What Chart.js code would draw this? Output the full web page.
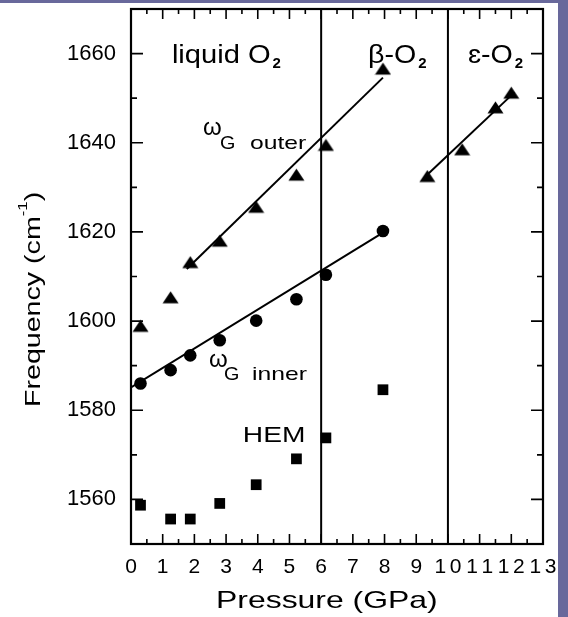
<!DOCTYPE html>
<html lang="en">
<head>
<meta charset="UTF-8">
<title>G band frequency of O2 vs pressure</title>
<script src="https://cdn.jsdelivr.net/npm/chart.js"></script>
<style>
  html, body { margin: 0; padding: 0; background: #fff; }
  #wrap { position: relative; width: 568px; height: 617px; overflow: hidden; }
  #wrap canvas { position: absolute; left: 0; top: 0; }
  .band { position: absolute; background: #68689b; }
  #topBand { left: 0; top: 0; width: 568px; height: 3px; }
  #rightBand { left: 558px; top: 0; width: 10px; height: 617px; }
</style>
</head>
<body>
<div id="wrap">
  <canvas id="chart" width="568" height="617"></canvas>
  <div class="band" id="topBand"></div>
  <div class="band" id="rightBand"></div>
</div>
<script>
// liquid O2 and beta-O2 runs (GPa)
const pressures = [0.3, 1.25, 1.87, 2.8, 3.95, 5.22, 6.15, 7.95];
const outerFreq = [1598.6, 1605.0, 1612.9, 1617.7, 1625.3, 1632.5, 1639.2, 1656.3];
const innerFreq = [1586.0, 1589.0, 1592.3, 1595.7, 1600.1, 1604.9, 1610.4, 1620.2];
const hemFreq   = [1558.7, 1555.6, 1555.6, 1559.1, 1563.3, 1569.1, 1573.8, 1584.6];
// epsilon-O2
const epsPressures = [9.35, 10.45, 11.5, 12.0];
const epsOuterFreq = [1632.2, 1638.2, 1647.6, 1650.9];
// fitted lines, end points
const outerFitP = [1.76, 7.95];
const outerFitF = [1611.7, 1654.6];
const innerFitP = [0, 7.9];
const innerFitF = [1585.1, 1619.6];
const epsFitP = [9.33, 12.1];
const epsFitF = [1632.7, 1651.3];
// phase boundaries (GPa)
const phaseBounds = [6, 10];

const xTicks = [0, 1, 2, 3, 4, 5, 6, 7, 8, 9, 10, 11, 12, 13];
const yTicks = [1560, 1580, 1600, 1620, 1640, 1660];
const xMin = 0, xMax = 13, yMin = 1550, yMax = 1670;

const FONT = '"Liberation Sans", Arial, sans-serif';

function pts(xs, ys) {
  return xs.map((x, i) => ({ x: x, y: ys[i] }));
}

// flattened triangle marker like the original figure
const triMarker = document.createElement('canvas');
triMarker.width = 17; triMarker.height = 16;
(function () {
  const c = triMarker.getContext('2d');
  c.fillStyle = '#000';
  c.beginPath();
  c.moveTo(8.5, 0.5);
  c.lineTo(16.5, 12.5);
  c.lineTo(0.5, 12.5);
  c.closePath();
  c.fill();
})();

// text placed in data coordinates; runs are drawn left to right
const notes = [
  { x: 1.29, y: 1658.0, runs: [{ t: 'liquid O', size: 26, sx: 1.12 }, { t: '2', size: 15, bold: true, dy: 5, gap: 2 }] },
  { x: 7.48, y: 1658.0, runs: [{ t: '\u03b2-O', size: 26, sx: 1.1 }, { t: '2', size: 15, bold: true, dy: 5, gap: 2 }] },
  { x: 10.63, y: 1658.0, runs: [{ t: '\u025b-O', size: 26, sx: 1.1 }, { t: '2', size: 15, bold: true, dy: 5, gap: 2 }] },
  { x: 2.27, y: 1641.8, runs: [{ t: '\u03c9', size: 24 }, { t: 'G', size: 18, dx: 17, dy: 14, sx: 1.1 }, { t: 'outer', size: 19, dx: 47, dy: 14, sx: 1.3 }] },
  { x: 2.46, y: 1589.6, runs: [{ t: '\u03c9', size: 24 }, { t: 'G', size: 18, dx: 15, dy: 13, sx: 1.1 }, { t: 'inner', size: 19, dx: 43, dy: 13, sx: 1.3 }] },
  { x: 3.53, y: 1572.9, runs: [{ t: 'HEM', size: 22, sx: 1.28 }] }
];

function drawRuns(ctx, x0, y0, runs, angle) {
  ctx.save();
  ctx.translate(x0, y0);
  if (angle) ctx.rotate(angle);
  ctx.fillStyle = '#000';
  ctx.textBaseline = 'alphabetic';
  ctx.textAlign = 'left';
  let cur = 0;
  runs.forEach(r => {
    const sx = r.sx || 1;
    const start = r.dx !== undefined ? r.dx : cur + (r.gap || 0);
    ctx.save();
    ctx.font = (r.bold ? 'bold ' : '') + r.size + 'px ' + FONT;
    ctx.translate(start, r.dy || 0);
    ctx.scale(sx, 1);
    ctx.fillText(r.t, 0, 0);
    const w = ctx.measureText(r.t).width * sx;
    ctx.restore();
    cur = start + w;
  });
  ctx.restore();
}

// x labels are spaced out digit by digit, as in the original ("10111213")
function drawXLabels(ctx, xs, baseY) {
  const sp = 3.6;
  ctx.save();
  ctx.font = '21px ' + FONT;
  ctx.fillStyle = '#000';
  ctx.textAlign = 'left';
  ctx.textBaseline = 'alphabetic';
  xTicks.forEach(v => {
    const chars = String(v).split('');
    const ws = chars.map(c => ctx.measureText(c).width);
    const total = ws.reduce((a, b) => a + b, 0) + sp * (chars.length - 1);
    let cx = xs.getPixelForValue(v) - total / 2;
    chars.forEach((c, i) => { ctx.fillText(c, cx, baseY); cx += ws[i] + sp; });
  });
  ctx.restore();
}

const framePlugin = {
  id: 'frame',
  afterDraw(chart) {
    const ctx = chart.ctx;
    const xs = chart.scales.x, ys = chart.scales.y;
    const { left, right, top, bottom } = chart.chartArea;
    ctx.save();
    ctx.strokeStyle = '#000';
    ctx.lineWidth = 1.6;
    ctx.beginPath();
    // x ticks, inward, bottom and top
    xTicks.forEach((v, i) => {
      const p = xs.getPixelForValue(v);
      ctx.moveTo(p, bottom); ctx.lineTo(p, bottom - 10);
      ctx.moveTo(p, top); ctx.lineTo(p, top + 10);
      if (i < xTicks.length - 1) {
        const m = xs.getPixelForValue((v + xTicks[i + 1]) / 2);
        ctx.moveTo(m, bottom); ctx.lineTo(m, bottom - 5);
        ctx.moveTo(m, top); ctx.lineTo(m, top + 5);
      }
    });
    // y ticks, inward, left and right
    yTicks.forEach((v, i) => {
      const p = ys.getPixelForValue(v);
      ctx.moveTo(left, p); ctx.lineTo(left + 12, p);
      ctx.moveTo(right, p); ctx.lineTo(right - 12, p);
      const half = [v - 10];
      if (i === yTicks.length - 1) half.push(v + 10);
      half.forEach(h => {
        if (h <= yMin || h >= yMax) return;
        const m = ys.getPixelForValue(h);
        ctx.moveTo(left, m); ctx.lineTo(left + 6, m);
        ctx.moveTo(right, m); ctx.lineTo(right - 6, m);
      });
    });
    ctx.stroke();
    ctx.lineWidth = 2.2;
    ctx.strokeRect(left, top, right - left, bottom - top);
    ctx.restore();

    drawXLabels(ctx, xs, bottom + 29);
    notes.forEach(n => drawRuns(ctx, xs.getPixelForValue(n.x), ys.getPixelForValue(n.y), n.runs));

    // axis titles
    drawRuns(ctx, 216, 608, [{ t: 'Pressure (GPa)', size: 24, sx: 1.33 }]);
    drawRuns(ctx, 40, 407, [
      { t: 'Frequency (cm', size: 22, sx: 1.3 },
      { t: '-1', size: 13, dy: -13, sx: 1.3 },
      { t: ')', size: 22, sx: 1.3 }
    ], -Math.PI / 2);
  }
};

const lineSet = (data) => ({
  data: data, showLine: true, pointRadius: 0, borderColor: '#000', borderWidth: 2, fill: false
});

const datasets = [];
phaseBounds.forEach(b => datasets.push(lineSet([{ x: b, y: yMin }, { x: b, y: yMax }])));
datasets.push(lineSet(pts(outerFitP, outerFitF)));
datasets.push(lineSet(pts(innerFitP, innerFitF)));
datasets.push(lineSet(pts(epsFitP, epsFitF)));
datasets.push({
  label: 'outer', data: pts(pressures, outerFreq), pointStyle: triMarker,
  backgroundColor: '#000', borderColor: '#000', pointRadius: 8
});
datasets.push({
  label: 'outer eps', data: pts(epsPressures, epsOuterFreq), pointStyle: triMarker,
  backgroundColor: '#000', borderColor: '#000', pointRadius: 8
});
datasets.push({
  label: 'inner', data: pts(pressures, innerFreq), pointStyle: 'circle',
  backgroundColor: '#000', borderColor: '#000', pointRadius: 6.3, borderWidth: 0
});
datasets.push({
  label: 'HEM', data: pts(pressures, hemFreq), pointStyle: 'rect',
  backgroundColor: '#000', borderColor: '#000', pointRadius: 7.6, borderWidth: 0
});

new Chart(document.getElementById('chart'), {
  type: 'scatter',
  data: { datasets: datasets },
  plugins: [framePlugin],
  options: {
    responsive: false,
    animation: false,
    events: [],
    layout: { padding: { left: 0, right: 25, top: 4, bottom: 0 } },
    plugins: { legend: { display: false }, tooltip: { enabled: false } },
    scales: {
      x: {
        type: 'linear', min: xMin, max: xMax,
        afterBuildTicks: s => { s.ticks = xTicks.map(v => ({ value: v })); },
        afterFit: s => { s.height = 73; s.paddingLeft = 0; s.paddingRight = 0; },
        grid: { display: false, drawTicks: false },
        border: { display: false },
        ticks: { display: false }
      },
      y: {
        type: 'linear', min: yMin, max: yMax,
        afterBuildTicks: s => { s.ticks = yTicks.map(v => ({ value: v })); },
        afterFit: s => { s.width = 131; s.paddingTop = 0; s.paddingBottom = 0; },
        grid: { display: false, drawTicks: false },
        border: { display: false },
        ticks: { padding: 15, color: '#000', font: { family: FONT, size: 22 },
                 callback: v => String(v) }
      }
    }
  }
});
</script>
</body>
</html>
